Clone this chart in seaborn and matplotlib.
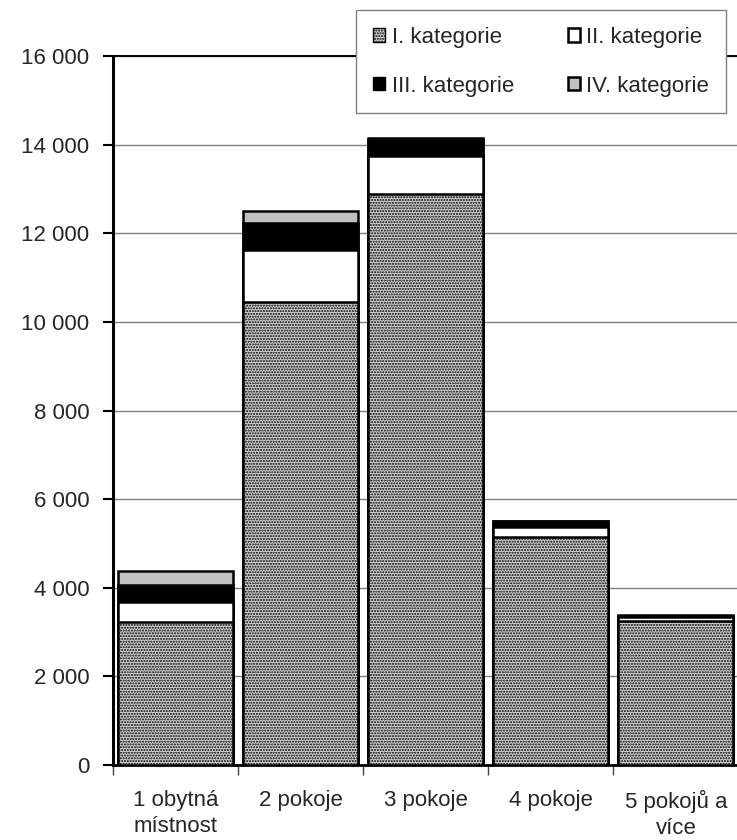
import numpy as np
import pandas as pd
import matplotlib
matplotlib.use('Agg')
import matplotlib.pyplot as plt
from matplotlib.patches import Patch
import seaborn as sns

# Data
categories = ['1 obytná\nmístnost', '2 pokoje', '3 pokoje', '4 pokoje', '5 pokojů a\nvíce']
kat_1 = [3220, 10450, 12880, 5140, 3240]
kat_2 = [460, 1180, 860, 230, 90]
kat_3 = [380, 610, 360, 130, 40]
kat_4 = [320, 260, 40, 10, 10]
series_names = ['I. kategorie', 'II. kategorie', 'III. kategorie', 'IV. kategorie']
yticks = [0, 2000, 4000, 6000, 8000, 10000, 12000, 14000, 16000]
ytick_labels = ['0', '2 000', '4 000', '6 000', '8 000', '10 000', '12 000', '14 000', '16 000']

sns.set_style('white')
plt.rcParams['font.family'] = ['Liberation Sans', 'DejaVu Sans']
plt.rcParams['hatch.linewidth'] = 1.0

df = pd.DataFrame({'kat': categories, 'I': kat_1, 'II': kat_2, 'III': kat_3, 'IV': kat_4})
df['c4'] = df[['I', 'II', 'III', 'IV']].sum(axis=1)
df['c3'] = df[['I', 'II', 'III']].sum(axis=1)
df['c2'] = df[['I', 'II']].sum(axis=1)
df['c1'] = df['I']

fig = plt.figure(figsize=(7.37, 8.40), dpi=100)
ax = fig.add_axes([0.153, 0.0893, 0.849, 0.844])

# stacked look: draw cumulative totals from top layer down
layers = [('c4', '#c0c0c0', None), ('c3', 'black', None), ('c2', 'white', None), ('c1', '#d0d0d0', '......')]
for col, color, hatch in layers:
    sns.barplot(data=df, x='kat', y=col, color=color, width=0.92, saturation=1,
                edgecolor='black', linewidth=1.8, hatch=hatch, ax=ax, zorder=3)

ax.set_xlim(-0.5, 4.5)
ax.set_ylim(0, 16000)
ax.set_yticks(yticks)
ax.set_yticklabels(ytick_labels)
ax.yaxis.grid(True, color='#808080', linewidth=1.0, zorder=0)
ax.set_axisbelow(True)

# tick marks between categories, labels at centres
ax.set_xticks(np.arange(-0.5, 5, 1.0))
ax.set_xticklabels([])
ax.set_xticks(np.arange(5), minor=True)
ax.set_xticklabels(categories, minor=True)
for lbl in ax.get_xticklabels(minor=True):
    lbl.set_linespacing(1.3)
ax.tick_params(axis='x', which='major', length=7, width=1, color='#404040', direction='out', bottom=True)
ax.tick_params(axis='x', which='minor', length=0, pad=18, labelsize=16)
ax.tick_params(axis='y', length=7, width=1.5, color='black', direction='out', left=True, labelsize=16, pad=10)
ax.set_xlabel('')
ax.set_ylabel('')

for side in ['left', 'bottom', 'top']:
    ax.spines[side].set_visible(True)
    ax.spines[side].set_color('black')
ax.spines['left'].set_linewidth(2.2)
ax.spines['bottom'].set_linewidth(2.0)
ax.spines['top'].set_linewidth(1.4)
ax.spines['right'].set_visible(False)

handles = [
    Patch(facecolor='#d0d0d0', edgecolor='black', hatch='......', label=series_names[0]),
    Patch(facecolor='black', edgecolor='black', label=series_names[2]),
    Patch(facecolor='white', edgecolor='black', linewidth=1.8, label=series_names[1]),
    Patch(facecolor='#c0c0c0', edgecolor='black', linewidth=1.8, label=series_names[3]),
]
leg = fig.legend(handles=handles, ncol=2, loc='upper right', bbox_to_anchor=(0.985, 0.988),
                 fontsize=16, frameon=True, fancybox=False, framealpha=1, edgecolor='#808080',
                 handlelength=0.55, handleheight=0.55, handletextpad=0.3, columnspacing=2.4,
                 labelspacing=1.25, borderpad=0.75, borderaxespad=0)
leg.get_frame().set_linewidth(1.0)

fig.savefig('out.png', dpi=100)
